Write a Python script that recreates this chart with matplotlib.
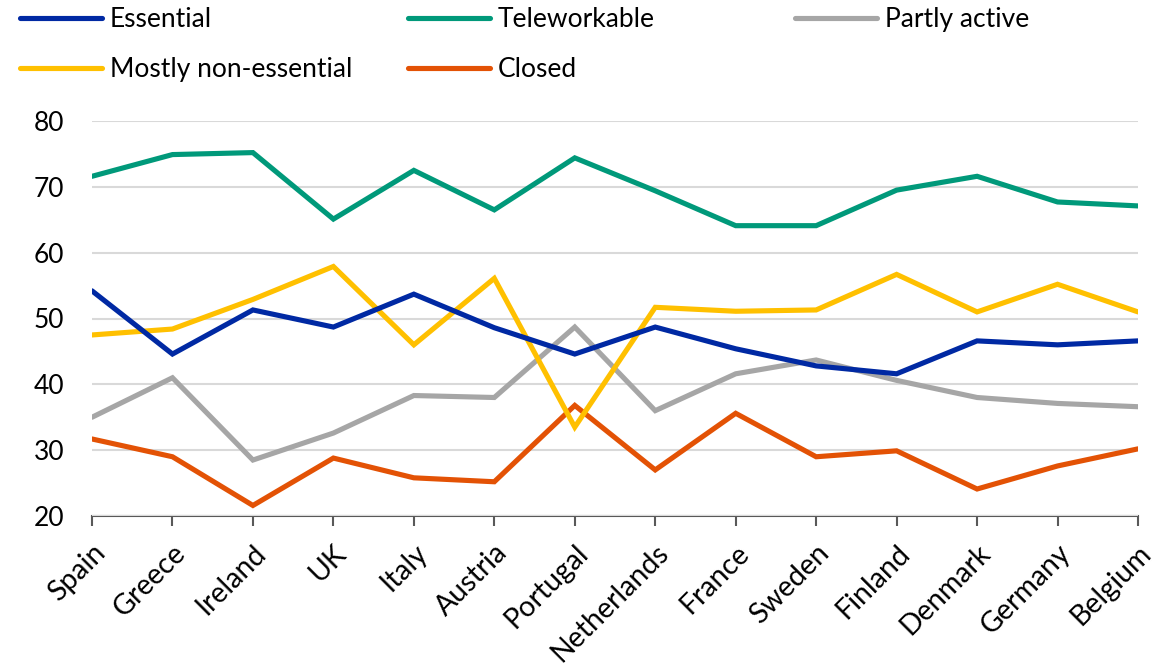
#!/usr/bin/env python3

import matplotlib.pyplot as plt

countries = ["Spain", "Greece", "Ireland", "UK", "Italy", "Austria", "Portugal",
             "Netherlands", "France", "Sweden", "Finland", "Denmark", "Germany", "Belgium"]

essential = [54.2, 44.6, 51.3, 48.7, 53.7, 48.6, 44.6, 48.7, 45.4, 42.8, 41.6, 46.6, 46.0, 46.6]
teleworkable = [71.6, 74.9, 75.2, 65.1, 72.5, 66.5, 74.4, 69.4, 64.1, 64.1, 69.5, 71.6, 67.7, 67.1]
partly_active = [35.0, 41.0, 28.5, 32.6, 38.3, 38.0, 48.7, 36.0, 41.6, 43.7, 40.6, 38.0, 37.1, 36.6]
mostly_non_essential = [47.5, 48.4, 52.9, 57.9, 46.0, 56.1, 33.5, 51.7, 51.1, 51.3, 56.7, 51.0, 55.2, 51.0]
closed = [31.7, 29.0, 21.6, 28.8, 25.8, 25.2, 36.8, 27.0, 35.6, 29.0, 29.9, 24.1, 27.6, 30.2]

colors = {
    "Essential": "#0029A3",
    "Teleworkable": "#00997A",
    "Partly active": "#A6A6A6",
    "Mostly non-essential": "#FFC000",
    "Closed": "#E35205",
}

plt.rcParams['font.family'] = ['Lato', 'DejaVu Sans']
plt.rcParams['font.size'] = 19

fig = plt.figure(figsize=(11.66, 6.65), dpi=100)
ax = fig.add_axes([92 / 1166, 1 - 516 / 665, (1138 - 92) / 1166, (516 - 121) / 665])

x = list(range(len(countries)))
lines = {}
for name, vals in [("Partly active", partly_active), ("Closed", closed),
                   ("Mostly non-essential", mostly_non_essential),
                   ("Essential", essential), ("Teleworkable", teleworkable)]:
    lines[name], = ax.plot(x, vals, color=colors[name], lw=3.7,
                           solid_capstyle='round', solid_joinstyle='miter', label=name)

ax.set_xlim(0, len(countries) - 1)
ax.set_ylim(20, 80)
ax.set_yticks(range(20, 81, 10))
ax.grid(axis='y', color='#D9D9D9', lw=1.5)
ax.set_axisbelow(True)

for s in ['top', 'right', 'left']:
    ax.spines[s].set_visible(False)
ax.spines['bottom'].set_color('#595959')
ax.spines['bottom'].set_linewidth(1.5)
ax.spines['bottom'].set_zorder(0.5)

ax.tick_params(axis='y', length=0, pad=20, labelsize=19)
ax.tick_params(axis='x', length=7, width=1.5, color='#595959', direction='out', pad=10)
ax.set_xticks(x)
ax.set_xticklabels(countries, rotation=45, ha='right', va='top',
                   rotation_mode='anchor', fontsize=20.5)

# legend laid out as three fixed columns
cols = [["Essential", "Mostly non-essential"], ["Teleworkable", "Closed"], ["Partly active"]]
starts = [20, 408, 795]
for names, x0 in zip(cols, starts):
    leg = fig.legend([lines[n] for n in names], names, loc='upper left',
                     bbox_to_anchor=(x0 / 1166, 1 - 7 / 665), frameon=False,
                     borderpad=0, borderaxespad=0, handlelength=3.1,
                     handletextpad=0.3, labelspacing=0.95, fontsize=19)

fig.savefig("out.png", dpi=100)
